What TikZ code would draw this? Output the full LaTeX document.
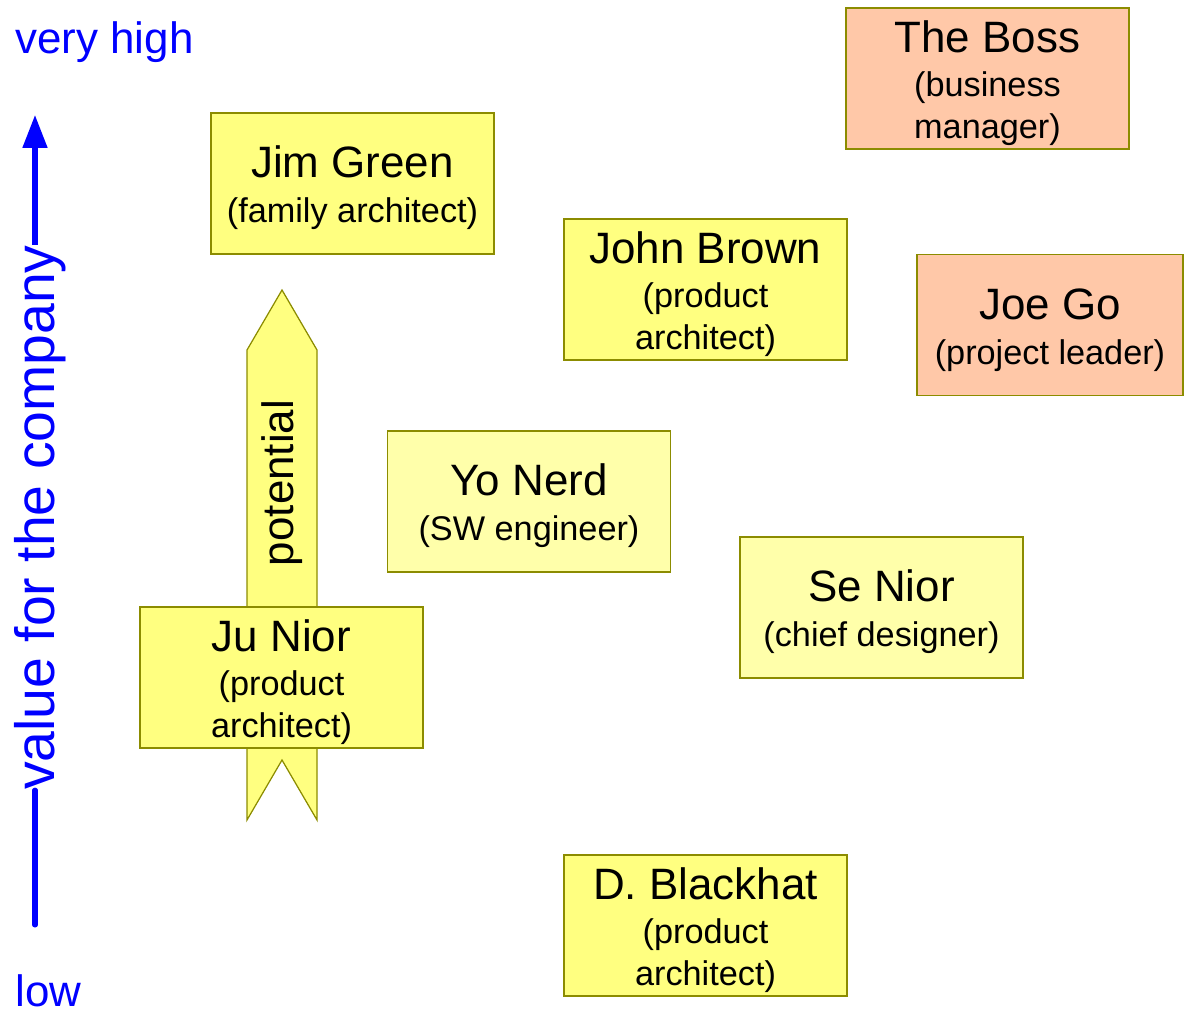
\documentclass[tikz,border=0pt]{standalone}
\usepackage{fontspec}
\setmainfont{Liberation Sans}
\usetikzlibrary{arrows.meta}
\definecolor{boxyellow}{HTML}{FFFF80}
\definecolor{paleyellow}{HTML}{FFFFAA}
\definecolor{bosssalmon}{HTML}{FFC8A8}
\definecolor{boxline}{HTML}{8C8C00}
\newcommand{\pname}[1]{{\fontsize{25}{30}\selectfont\rule{0pt}{23pt}#1}}
\newcommand{\prole}[1]{{\fontsize{19.5}{23.5}\selectfont #1}}
\begin{document}
\begin{tikzpicture}[x=0.02cm,y=-0.02cm,
  person/.style={draw=boxline,line width=0.7pt,fill=boxyellow,minimum width=5.66cm,minimum height=2.82cm,inner sep=0pt,align=center,font=\fontsize{19.5}{23.5}\selectfont},
  pale/.style={person,fill=paleyellow},
  boss/.style={person,fill=bosssalmon},
  axistext/.style={text=blue,inner sep=0pt}]
\useasboundingbox (0,0) rectangle (1184,1011);
\path[draw=boxline,line width=0.7pt,fill=boxyellow] (247,350) -- (282,290) -- (317,350) -- (317,820) -- (282,760) -- (247,820) -- cycle;
\node[rotate=90,inner sep=0pt,font=\fontsize{25}{30}\selectfont] (potential) at (282,483) {potential};
\node[boss] (boss) at (987.5,78.5) {\pname{The Boss}\\[2pt]\prole{(business}\\\prole{manager)}};
\node[person] (jimgreen) at (352.5,183.5) {\pname{Jim Green}\\[2pt]\prole{(family architect)}};
\node[person] (johnbrown) at (705.5,289.5) {\pname{John Brown}\\[2pt]\prole{(product}\\\prole{architect)}};
\node[boss,minimum width=5.32cm] (joego) at (1050,325) {\pname{Joe Go}\\[2pt]\prole{(project leader)}};
\node[pale] (yonerd) at (529,501.5) {\pname{Yo Nerd}\\[2pt]\prole{(SW engineer)}};
\node[pale] (senior) at (881.5,607.5) {\pname{Se Nior}\\[2pt]\prole{(chief designer)}};
\node[person] (junior) at (281.5,677.5) {\pname{Ju Nior}\\[2pt]\prole{(product}\\\prole{architect)}};
\node[person] (blackhat) at (705.5,925.5) {\pname{D. Blackhat}\\[2pt]\prole{(product}\\\prole{architect)}};
\node[axistext,anchor=west,font=\fontsize{25}{30}\selectfont] (veryhigh) at (15,42) {very high};
\node[axistext,anchor=west,font=\fontsize{25}{30}\selectfont] (low) at (15,991) {low};
\node[axistext,rotate=90,font=\fontsize{31.5}{36}\selectfont] (valuelbl) at (40,517.5) {value for the company};
\coordinate (lowend) at (35,925);
\coordinate (highend) at (35,115);
\path[draw,blue,line width=2.85pt,line cap=round] (lowend) -- (lowend |- valuelbl.west);
\path[draw,blue,line width=2.85pt,-{Triangle[length=0.66cm,width=0.48cm]}] (highend |- valuelbl.east) -- (highend);
\end{tikzpicture}
\end{document}
